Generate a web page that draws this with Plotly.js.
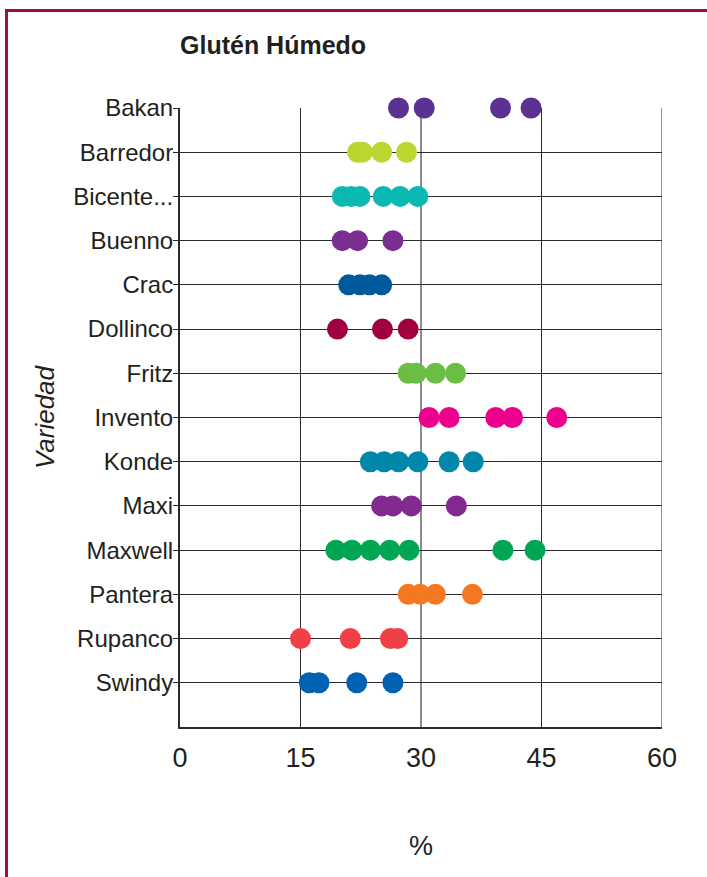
<!DOCTYPE html>
<html>
<head>
<meta charset="utf-8">
<script src="https://cdn.plot.ly/plotly-3.0.1.min.js"></script>
<style>
html,body{margin:0;padding:0;background:#fff;}
#wrap{position:relative;width:707px;height:877px;overflow:hidden;}
#chart{position:absolute;left:0;top:0;width:707px;height:877px;}
#frame{position:absolute;left:5px;top:9px;width:720px;height:900px;border-left:3px solid #a3094c;border-top:3px solid #a3094c;pointer-events:none;}
</style>
</head>
<body>
<div id="wrap"><div id="chart"></div><div id="frame"></div></div>
<script>
// Categories (top to bottom)
const varieties = ["Bakan","Barredor","Bicente...","Buenno","Crac","Dollinco","Fritz","Invento","Konde","Maxi","Maxwell","Pantera","Rupanco","Swindy"];

// Wet gluten values (%) per variety
const bakan      = [27.2, 30.4, 39.9, 43.7];
const barredor   = [22.1, 22.7, 25.1, 28.2];
const bicente    = [20.2, 21.3, 22.4, 25.3, 27.4, 29.6];
const buenno     = [20.2, 22.1, 26.5];
const crac       = [21.0, 22.4, 23.6, 25.1];
const dollinco   = [19.6, 25.2, 28.4];
const fritz      = [28.4, 29.4, 31.8, 34.3];
const invento    = [31.0, 33.5, 39.3, 41.4, 46.9];
const konde      = [23.7, 25.4, 27.2, 29.6, 33.5, 36.5];
const maxi       = [25.1, 26.5, 28.8, 34.4];
const maxwell    = [19.4, 21.4, 23.7, 26.1, 28.5, 40.2, 44.2];
const pantera    = [28.4, 29.9, 31.8, 36.4];
const rupanco    = [15.0, 21.2, 26.2, 27.1];
const swindy     = [16.1, 17.3, 22.0, 26.5];

const seriesValues = [bakan, barredor, bicente, buenno, crac, dollinco, fritz, invento, konde, maxi, maxwell, pantera, rupanco, swindy];

// X tick labels
const xTicks = [0, 15, 30, 45, 60];

// Colours per variety
const colors = ["#5b3291","#bcd531","#0ab9b1","#7b2d91","#00599a","#a0003f","#6abd45","#ec008c","#0087a9","#822a90","#00a651","#f47721","#ef4047","#0062b1"];

const traces = varieties.map((v, i) => ({
  type: "scatter",
  mode: "markers",
  x: seriesValues[i],
  y: seriesValues[i].map(() => v),
  marker: {size: 21, color: colors[i], line: {width: 0}},
  cliponaxis: false,
  hoverinfo: "x+y",
  showlegend: false
}));

// vertical grid lines (the 30 line is lighter grey in the original)
const gridShapes = xTicks.slice(1).map(t => ({
  type: "line", xref: "x", yref: "paper",
  x0: t, x1: t, y0: 0, y1: 1,
  line: {color: t === 30 ? "#8c8c8c" : "#2b2b2b", width: t === 30 ? 2 : 1},
  layer: "below"
}));

const layout = {
  width: 707, height: 877,
  margin: {l: 180, r: 45, t: 108, b: 150, pad: 0},
  paper_bgcolor: "#fff", plot_bgcolor: "#fff",
  font: {family: "Liberation Sans, Arial, sans-serif", color: "#231f20"},
  title: {
    text: "<b>Glutén Húmedo</b>",
    font: {family: "Liberation Sans, Arial, sans-serif", size: 25, color: "#231f20"},
    xref: "paper", x: 0, xanchor: "left",
    yref: "container", y: 1 - 45/877, yanchor: "middle"
  },
  xaxis: {
    range: [0, 60],
    tickvals: xTicks,
    ticktext: xTicks.map(String),
    showgrid: false,
    zeroline: false,
    showline: true, linecolor: "#2b2b2b", linewidth: 2,
    ticks: "outside", ticklen: 6, tickcolor: "rgba(0,0,0,0)",
    tickfont: {size: 27, color: "#231f20"},
    title: {text: "%", font: {size: 27, color: "#231f20"}, standoff: 64},
    fixedrange: true
  },
  yaxis: {
    type: "category",
    categoryorder: "array",
    categoryarray: varieties,
    range: [14, 0],
    showgrid: true, gridcolor: "#2b2b2b", gridwidth: 1,
    zeroline: false,
    showline: true, linecolor: "#2b2b2b", linewidth: 2,
    ticks: "outside", ticklen: 5, tickcolor: "#2b2b2b", tickwidth: 1,
    ticklabelstandoff: -5,
    tickfont: {size: 24, color: "#231f20"},
    title: {text: "<i>Variedad</i>", font: {size: 26, color: "#231f20"}, standoff: 11},
    fixedrange: true
  },
  shapes: gridShapes
};

Plotly.newPlot("chart", traces, layout, {displayModeBar: false, staticPlot: true});
</script>
</body>
</html>
